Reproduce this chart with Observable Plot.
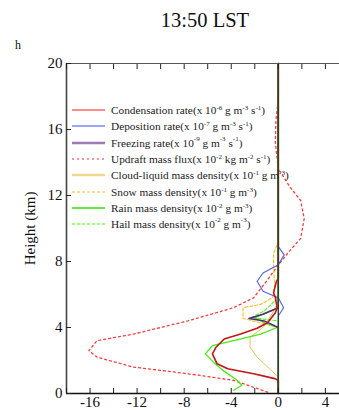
<!DOCTYPE html>
<html>
<head>
<meta charset="utf-8">
<script src="https://cdn.jsdelivr.net/npm/d3@7"></script>
<script src="https://cdn.jsdelivr.net/npm/@observablehq/plot@0.6"></script>
<style>
  body { margin: 0; background: white; }
  #wrap { position: relative; width: 339px; height: 410px; overflow: hidden; font-family: "Liberation Serif", serif; background: white; }
  #title { position: absolute; left: 0; width: 410px; top: 9px; text-align: center; font-size: 20.5px; color: #111; }
  #hlab { position: absolute; left: 15px; top: 38px; font-size: 12px; color: #111; }
  #chart { position: absolute; left: 0; top: 58px; }
  #chart svg, #chart svg text { font-family: "Liberation Serif", serif !important; }
  #legend { position: absolute; left: 72px; top: 102px; font-size: 11.3px; color: #222; }
  .row { display: flex; align-items: center; height: 16.3px; white-space: nowrap; }
  .row svg { margin-right: 5px; }
  sup { font-size: 7px; vertical-align: 4px; line-height: 0; }
  sup.hi { vertical-align: 6px; }
</style>
</head>
<body>
<div id="wrap">
  <div id="title">13:50 LST</div>
  <div id="hlab">h</div>
  <div id="chart"></div>
  <div id="legend"></div>
</div>
<script>
// ---- data (x values in scaled units, heights in km) ----
const condH = [0, 0.8, 0.9, 1.2, 1.5, 1.8, 2.4, 2.8, 3.3, 3.6, 3.95, 4.3, 4.9, 5.2, 5.8, 6.1, 6.4, 6.7, 7.0, 20];
const condX = [0, 0, -0.3, -2.1, -4.3, -5.2, -5.6, -5.3, -4.6, -3.2, -1.8, -0.9, -0.25, -0.1, -0.25, -0.4, -0.3, -0.2, 0, 0];

const depoH = [0, 4.7, 5.2, 5.8, 6.2, 6.8, 7.3, 7.8, 8.4, 8.9, 20];
const depoX = [0, 0, 0.45, 0, -1.3, -1.8, -1.3, 0, 0.5, 0, 0];

const frzH = [0, 4.0, 4.4, 4.55, 4.8, 5.2, 20];
const frzX = [0, 0, -1.2, -2.5, -1.3, 0, 0];

const updH = [0.08, 0.8, 1.2, 1.6, 2.2, 2.6, 3.2, 3.6, 4.4, 5.2, 5.8, 6.9, 7.7, 8.5, 9.4, 10.6, 11.7, 12.5, 13.4, 13.6, 15.2, 16.6, 17.8, 20];
const updX = [-0.9, -3.8, -7.7, -12.3, -15.4, -16.1, -15.4, -12.3, -7.7, -3.8, -2.1, -0.9, -0.1, 0.8, 1.9, 2.2, 1.9, 1.0, 0.2, 0, -0.25, -0.2, 0, 0];

const cloudH = [0, 1.0, 1.6, 2.2, 2.8, 3.4, 4.0, 4.4, 5.0, 5.6, 20];
const cloudX = [0, 0, -0.9, -1.8, -2.4, -2.4, -1.3, -0.9, -0.4, 0, 0];

const snowH = [0, 4.0, 4.2, 4.4, 4.55, 5.2, 5.4, 5.8, 6.5, 7.5, 8.5, 9.2, 20];
const snowX = [0, 0, -1.0, -2.2, -3.0, -3.0, -1.5, -0.5, -0.3, -0.4, -0.4, 0, 0];

const rainH = [0.2, 0.5, 0.8, 1.4, 1.9, 2.4, 2.9, 3.2, 3.6, 4.0, 4.3, 4.6, 4.9, 5.2, 20];
const rainX = [-3.8, -3.1, -3.5, -4.7, -5.5, -6.2, -5.6, -3.8, -1.5, -0.1, -1.2, -2.0, -1.0, 0, 0];

const hailH = [0, 4.4, 4.6, 5.0, 5.6, 6.0, 20];
const hailX = [0, 0, -2.3, -1.2, -0.3, 0, 0];

const xTicksMinor = [-18, -16, -14, -12, -10, -8, -6, -4, -2, 0, 2, 4];
const xTickLabels = [-16, -12, -8, -4, 0, 4];
const yTicks = [0, 4, 8, 12, 16, 20];

const seriesNames = ["Condensation rate", "Deposition rate", "Freezing rate", "Updraft mass flux",
  "Cloud-liquid mass density", "Snow mass density", "Rain mass density", "Hail mass density"];
const seriesUnits = [
  'x 10<sup>-6</sup> g m<sup>-3</sup> s<sup>-1</sup>',
  'x 10<sup>-7</sup> g m<sup>-3</sup> s<sup>-1</sup>',
  'x 10<sup class="hi">-9</sup> g m<sup class="hi">-3</sup> s<sup class="hi">-1</sup>',
  'x 10<sup>-2</sup> kg m<sup>-2</sup> s<sup>-1</sup>',
  'x 10<sup>-1</sup> g m<sup>-3</sup>',
  'x 10<sup>-1</sup> g m<sup>-3</sup>',
  'x 10<sup>-2</sup> g m<sup>-3</sup>',
  'x 10<sup class="hi">-2</sup> g m<sup class="hi">-3</sup>'
];
const seriesH = [condH, depoH, frzH, updH, cloudH, snowH, rainH, hailH];
const seriesX = [condX, depoX, frzX, updX, cloudX, snowX, rainX, hailX];

// ---- styles ----
const styles = [
  {stroke: "#c41414", width: 1.6, dash: null, legendStroke: "#ff1a1a", legendWidth: 1.2},
  {stroke: "#4a5cff", width: 1.1, dash: null, legendStroke: "#3a4cff", legendWidth: 1.2},
  {stroke: "#5a2a7a", width: 1.5, dash: null, legendStroke: "#9b7cb6", legendWidth: 2.5},
  {stroke: "#ff3b3b", width: 1.3, dash: "2,3", legendStroke: "#ff7070", legendWidth: 1.5},
  {stroke: "#efc250", width: 1.0, dash: null, legendStroke: "#f0d890", legendWidth: 2.5},
  {stroke: "#f5c020", width: 1.1, dash: "3,2", legendStroke: "#f5c020", legendWidth: 1.1},
  {stroke: "#44ee10", width: 1.3, dash: null, legendStroke: "#2ee000", legendWidth: 1.3},
  {stroke: "#66ee33", width: 1.2, dash: "3,2", legendStroke: "#80ff50", legendWidth: 1.3}
];
const drawOrder = [3, 4, 5, 7, 6, 1, 2, 0];

const lineMarks = drawOrder.map(i => {
  const rows = seriesH[i].map((h, j) => ({h, v: seriesX[i][j]}));
  const s = styles[i];
  return Plot.line(rows, {x: "v", y: "h", stroke: s.stroke, strokeWidth: s.width,
    strokeDasharray: s.dash || undefined, curve: "linear"});
});

const plot = Plot.plot({
  width: 339,
  height: 352,
  marginTop: 5,
  marginBottom: 17,
  marginLeft: 66,
  marginRight: 0,
  style: {fontFamily: "'Liberation Serif', serif", fontSize: "15px", background: "white", color: "#111", overflow: "visible"},
  x: {domain: [-18, 5.2]},
  y: {domain: [0, 20]},
  marks: [
    ...lineMarks,
    Plot.ruleX([0], {stroke: "#244a16", strokeWidth: 1.4}),
    Plot.ruleY([20], {stroke: "#555", strokeWidth: 1.2}),
    Plot.ruleY([0], {stroke: "#111", strokeWidth: 1.5}),
    Plot.ruleX([-18], {stroke: "#444", strokeWidth: 1.6}),
    Plot.axisX({ticks: xTicksMinor, tickSize: -5, tickFormat: () => "", label: null, stroke: "#222"}),
    Plot.axisX({anchor: "top", ticks: xTicksMinor, tickSize: -5, tickFormat: () => "", label: null, stroke: "#222"}),
    Plot.axisX({ticks: xTickLabels, tickSize: 0, tickPadding: 3, label: null, tickFormat: d => String(d).replace("\u2212", "-"), fill: "#111", fontFamily: "Liberation Serif", fontSize: 15}),
    Plot.axisY({ticks: yTicks, tickSize: -5, tickFormat: () => "", label: null, stroke: "#222"}),
    Plot.axisY({ticks: yTicks, tickSize: 0, tickPadding: 4, label: "Height (km)", labelAnchor: "center", labelArrow: "none", labelOffset: 42, fill: "#111", fontFamily: "Liberation Serif", fontSize: 15})
  ]
});
document.getElementById("chart").appendChild(plot);

// legend
const legend = d3.select("#legend");
seriesNames.forEach((name, i) => {
  const s = styles[i];
  const row = legend.append("div").attr("class", "row");
  const sv = row.append("svg").attr("width", 34).attr("height", 6);
  sv.append("line").attr("x1", 0).attr("x2", 33).attr("y1", 3).attr("y2", 3)
    .attr("stroke", s.legendStroke).attr("stroke-width", s.legendWidth)
    .attr("stroke-dasharray", s.dash || null);
  row.append("span").html(name + "(" + seriesUnits[i] + ")");
});
</script>
</body>
</html>
